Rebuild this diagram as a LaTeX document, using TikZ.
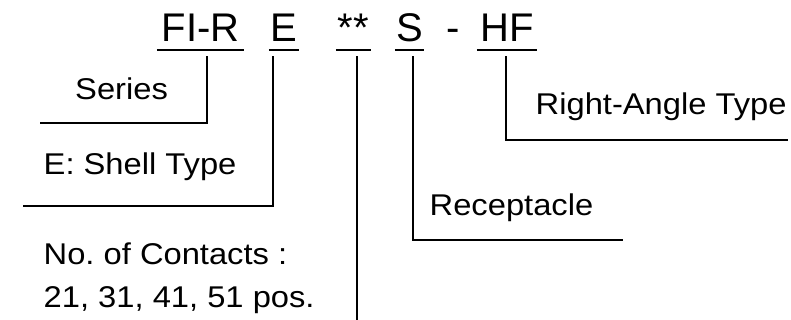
\documentclass[tikz,border=0pt]{standalone}
\usepackage{fontspec}
\setmainfont{Liberation Sans}
\newfontfamily\lblfont[FakeStretch=1.09]{Liberation Sans}
\usetikzlibrary{calc}
\frenchspacing
\newcommand{\drawlead}[3] {
  \draw[lead] ($(#1.south)+(#2,6)$) |- (#3); % from code part down to its label
}
\begin{document}
\begin{tikzpicture}[x=1pt, y=-1pt,
    part/.style={anchor=base, inner sep=0, text depth=8pt, font=\fontsize{40}{48}\selectfont},
    uline/.style={line width=2.6pt},
    lead/.style={line width=2.2pt},
    lbl/.style={anchor=base west, inner sep=0, align=left, font=\lblfont\fontsize{30}{43}\selectfont}]
    \useasboundingbox (0,0) rectangle (791,320);
    % the part number
    \node[part, minimum width=87] (fir) at (200.5,42) {FI-R};
    \node[part, minimum width=30] (shell) at (284,42) {E};
    \node[part, minimum width=35] (pos) at (353.5,42) {**};
    \node[part, minimum width=29] (rec) at (409.5,42) {S};
    \node[part] (dash) at (453.5,42) {-};
    \node[part, minimum width=60] (hf) at (507,42) {HF};
    \foreach \p in {fir,shell,pos,rec,hf}
      \draw[uline] (\p.south west) -- (\p.south east);
    % labels (base of a two-line node is its last line)
    \node[lbl] (series) at (75,100) {Series};
    \node[lbl] (shelltxt) at (43.5,175) {E: Shell Type};
    \node[lbl] (contacts) at (43.5,307) {No. of Contacts :\\21, 31, 41, 51 pos.};
    \node[lbl] (receptacle) at (429.5,215) {Receptacle};
    \node[lbl] (rightangle) at (535.5,115) {Right-Angle Type};
    \coordinate (serEnd) at (40,123);
    \coordinate (shellEnd) at (23,206);
    \coordinate (posEnd) at (357,320);
    \coordinate (recEnd) at (623,240);
    \coordinate (hfEnd) at (788,140);
    \drawlead{fir}{6.5}{serEnd}
    \drawlead{shell}{-11}{shellEnd}
    \drawlead{pos}{3.5}{posEnd}
    \drawlead{rec}{3.5}{recEnd}
    \drawlead{hf}{-1}{hfEnd}
    % \draw[red] (0,0) grid[step=50] (791,320);
\end{tikzpicture}
\end{document}
